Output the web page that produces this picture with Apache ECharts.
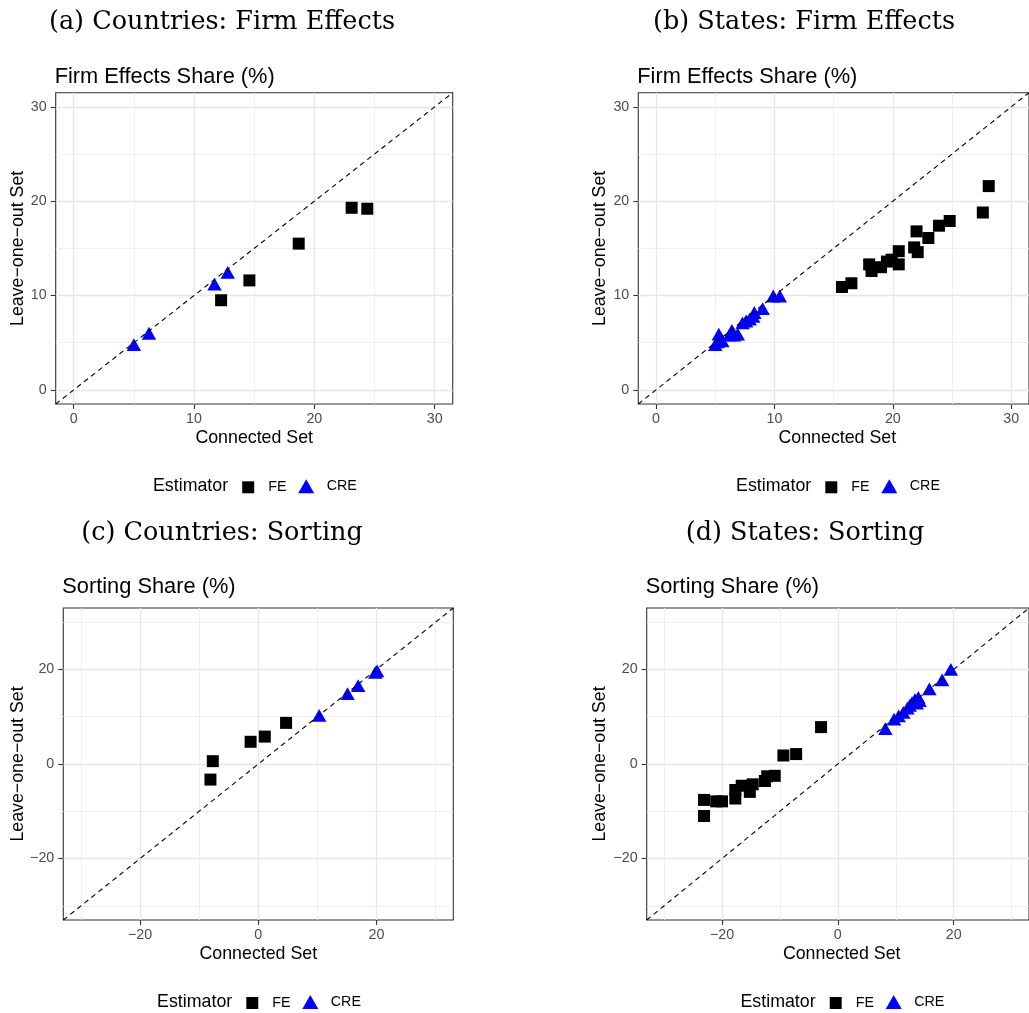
<!DOCTYPE html>
<html>
<head>
<meta charset="utf-8">
<script src="https://cdn.jsdelivr.net/npm/echarts@6/dist/echarts.min.js"></script>
<style>
html,body{margin:0;padding:0;background:#fff;}
#chart{width:1029px;height:1013px;}
</style>
</head>
<body>
<div id="chart"></div>
<script>
// ---------------- data ----------------
const panelTitles = ['(a) Countries: Firm Effects', '(b) States: Firm Effects', '(c) Countries: Sorting', '(d) States: Sorting'];
const panelSubtitles = ['Firm Effects Share (%)', 'Firm Effects Share (%)', 'Sorting Share (%)', 'Sorting Share (%)'];
const xAxisTitle = 'Connected Set';
const yAxisTitle = 'Leave\u2212one\u2212out Set';
const legendTitle = 'Estimator';
const seriesNames = ['FE', 'CRE'];

const shareTicks = [0, 10, 20, 30];
const shareMinorTicks = [5, 15, 25];
const shareLimits = [-1.5, 31.5];
const sortTicks = [-20, 0, 20];
const sortMinorTicks = [-30, -10, 10, 30];
const sortLimits = [-33, 33];

// [connected set, leave-one-out set]
const countriesFirmFE = [[12.25, 9.5], [14.6, 11.6], [18.7, 15.5], [23.1, 19.3], [24.4, 19.2]];
const countriesFirmCRE = [[5.0, 4.8], [6.25, 6.0], [11.7, 11.2], [12.8, 12.45]];
const statesFirmFE = [[15.7, 10.9], [16.5, 11.3], [18.0, 13.3], [18.2, 12.6], [19.0, 13.0], [19.5, 13.6], [19.9, 13.8], [20.5, 14.7], [20.5, 13.3], [21.8, 15.1], [22.0, 16.8], [22.1, 14.6], [23.0, 16.1], [23.9, 17.4], [24.8, 17.9], [27.6, 18.8], [28.1, 21.6]];
const statesFirmCRE = [[5.0, 4.8], [5.2, 5.1], [5.3, 5.9], [5.6, 5.2], [6.2, 5.8], [6.4, 6.3], [6.6, 5.8], [6.9, 5.9], [7.3, 7.1], [7.6, 7.3], [7.9, 7.5], [8.2, 7.8], [8.3, 8.2], [9.0, 8.6], [9.9, 9.95], [10.45, 9.95]];
const countriesSortFE = [[4.7, 8.7], [1.1, 5.8], [-1.3, 4.7], [-7.7, 0.6], [-8.1, -3.3]];
const countriesSortCRE = [[10.3, 10.3], [15.1, 14.9], [16.9, 16.6], [19.8, 19.4], [20.1, 19.7]];
const statesSortFE = [[-23.1, -7.6], [-23.1, -11.0], [-21.0, -7.9], [-20.0, -7.9], [-17.7, -7.3], [-17.7, -5.5], [-16.6, -4.6], [-15.2, -5.9], [-14.7, -4.3], [-12.6, -3.6], [-12.2, -2.6], [-10.9, -2.5], [-9.4, 1.8], [-7.2, 2.1], [-2.9, 7.8]];
const statesSortCRE = [[8.2, 7.5], [9.7, 9.5], [10.5, 10.2], [11.3, 10.9], [12.0, 11.8], [12.4, 12.4], [12.8, 13.0], [13.3, 13.6], [13.6, 12.9], [14.1, 13.4], [13.9, 14.1], [15.8, 15.9], [18.0, 17.8], [19.5, 20.0]];

// ---------------- layout / styling ----------------
const SANS = '"Liberation Sans", Arial, Helvetica, sans-serif';
const SERIF = '"DejaVu Serif", serif';
const panels = [
  {grid: {left: 55.7, top: 92.7, width: 397, height: 311.3}, lim: shareLimits, ticks: shareTicks, minor: shareMinorTicks, fe: countriesFirmFE, cre: countriesFirmCRE, titleX: 222, titleY: 22.5, subY: 76.7, yTitleX: 18, xTitleY: 437.8, legY: 486.3},
  {grid: {left: 638.3, top: 92.7, width: 398, height: 311.3}, lim: shareLimits, ticks: shareTicks, minor: shareMinorTicks, fe: statesFirmFE, cre: statesFirmCRE, titleX: 804, titleY: 22.5, subY: 76.7, yTitleX: 600.6, xTitleY: 437.8, legY: 486.3},
  {grid: {left: 63.3, top: 608, width: 390, height: 312}, lim: sortLimits, ticks: sortTicks, minor: sortMinorTicks, fe: countriesSortFE, cre: countriesSortCRE, titleX: 222, titleY: 533.7, subY: 586.7, yTitleX: 18, xTitleY: 954, legY: 1002},
  {grid: {left: 646.7, top: 608, width: 390, height: 312}, lim: sortLimits, ticks: sortTicks, minor: sortMinorTicks, fe: statesSortFE, cre: statesSortCRE, titleX: 805, titleY: 533.7, subY: 586.7, yTitleX: 600.6, xTitleY: 954, legY: 1002}
];

const grid = [], xAxis = [], yAxis = [], series = [], legend = [], graphic = [];
const fmt = v => String(v).replace('-', '\u2212');

panels.forEach((p, i) => {
  grid.push(Object.assign({show: true, borderColor: '#333333', borderWidth: 1.1, backgroundColor: 'transparent'}, p.grid));
  const major = (dim) => ({
    type: 'value', gridIndex: i, min: p.lim[0], max: p.lim[1],
    position: dim === 'x' ? 'bottom' : 'left',
    axisLine: {show: false, onZero: false},
    axisTick: {show: true, inside: false, length: 5, lineStyle: {color: '#333333', width: 1.1}, customValues: p.ticks},
    axisLabel: {show: true, customValues: p.ticks, formatter: fmt, fontSize: 14.3, color: '#4D4D4D', fontFamily: SANS, margin: dim === 'x' ? 8 : 9},
    splitLine: {show: true, lineStyle: {color: '#E6E6E6', width: 1.3}},
    minorTick: {show: false}, minorSplitLine: {show: false}
  });
  const minor = (dim) => ({
    type: 'value', gridIndex: i, min: p.lim[0], max: p.lim[1],
    position: dim === 'x' ? 'top' : 'right',
    axisLine: {show: false, onZero: false},
    axisTick: {show: false, customValues: p.minor},
    axisLabel: {show: false, customValues: p.minor},
    splitLine: {show: true, lineStyle: {color: '#ECECEC', width: 0.8}}
  });
  xAxis.push(major('x'), minor('x'));
  yAxis.push(major('y'), minor('y'));

  series.push({
    name: seriesNames[0], type: 'scatter', xAxisIndex: 2 * i, yAxisIndex: 2 * i,
    data: p.fe, symbol: 'rect', symbolSize: 12, itemStyle: {color: '#000000', opacity: 1}, z: 3, silent: true
  });
  series.push({
    name: seriesNames[1], type: 'scatter', xAxisIndex: 2 * i, yAxisIndex: 2 * i,
    data: p.cre, symbol: 'triangle', symbolSize: [14.5, 12.8], itemStyle: {color: '#0000FF', opacity: 1}, z: 3, silent: true
  });
  series.push({
    name: 'diag' + i, type: 'line', xAxisIndex: 2 * i, yAxisIndex: 2 * i,
    data: [[p.lim[0], p.lim[0]], [p.lim[1], p.lim[1]]], symbol: 'none', clip: true,
    lineStyle: {color: '#000000', width: 1.1, type: [5, 4]}, z: 4, silent: true, animation: false
  });

  const cx = p.grid.left + p.grid.width / 2;
  legend.push({
    data: [seriesNames[0]], icon: 'rect', itemWidth: 12, itemHeight: 12, left: cx - 12, top: p.legY - 6,
    padding: 0, selectedMode: false, orient: 'horizontal',
    textStyle: {fontSize: 14.3, color: '#000', fontFamily: SANS, padding: [0, 0, 0, 9]}
  });
  legend.push({
    data: [seriesNames[1]], icon: 'triangle', itemWidth: 16, itemHeight: 14, left: cx + 44, top: p.legY - 7,
    padding: 0, selectedMode: false, orient: 'horizontal',
    textStyle: {fontSize: 14.3, color: '#000', fontFamily: SANS, padding: [0, 0, 0, 7.5]}
  });

  graphic.push({type: 'text', x: p.titleX, y: p.titleY, silent: true,
    style: {text: panelTitles[i], fontSize: 25.5, fontFamily: SERIF, fill: '#000', align: 'center', verticalAlign: 'middle'}});
  graphic.push({type: 'text', x: p.grid.left - 1, y: p.subY, silent: true,
    style: {text: panelSubtitles[i], fontSize: 21.8, fontFamily: SANS, fill: '#000', align: 'left', verticalAlign: 'middle'}});
  graphic.push({type: 'text', x: cx, y: p.xTitleY, silent: true,
    style: {text: xAxisTitle, fontSize: 17.8, fontFamily: SANS, fill: '#000', align: 'center', verticalAlign: 'middle'}});
  graphic.push({type: 'text', x: p.yTitleX, y: p.grid.top + p.grid.height / 2, rotation: Math.PI / 2, silent: true,
    style: {text: yAxisTitle, fontSize: 17.8, fontFamily: SANS, fill: '#000', align: 'center', verticalAlign: 'middle'}});
  graphic.push({type: 'text', x: cx - 101.2, y: p.legY, silent: true,
    style: {text: legendTitle, fontSize: 17.8, fontFamily: SANS, fill: '#000', align: 'left', verticalAlign: 'middle'}});
});

const chart = echarts.init(document.getElementById('chart'), null, {renderer: 'canvas'});
chart.setOption({
  animation: false,
  backgroundColor: '#ffffff',
  grid, xAxis, yAxis, series, legend, graphic
});
</script>
</body>
</html>
